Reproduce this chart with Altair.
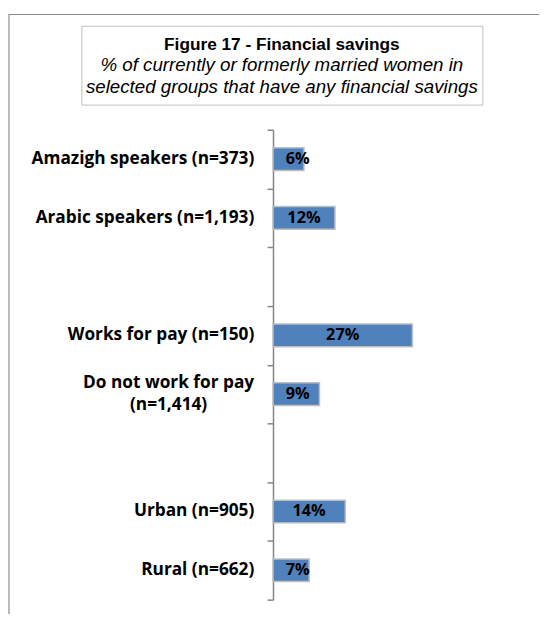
import altair as alt
import pandas as pd

categories = [
    "Amazigh speakers (n=373)",
    "Arabic speakers (n=1,193)",
    "Works for pay (n=150)",
    "Do not work for pay\n(n=1,414)",
    "Urban (n=905)",
    "Rural (n=662)",
]
values = [6, 12, 27, 9, 14, 7]
domain_order = [
    "Amazigh speakers (n=373)",
    "Arabic speakers (n=1,193)",
    " ",
    "Works for pay (n=150)",
    "Do not work for pay\n(n=1,414)",
    "  ",
    "Urban (n=905)",
    "Rural (n=662)",
]
title_text = "Figure 17 - Financial savings"
subtitle_lines = [
    "% of currently or formerly married women in",
    "selected groups that have any financial savings",
]

df = pd.DataFrame({"group": categories, "pct": values})

FONT = "Open Sans"
TFONT = "Liberation Sans"
W, H = 262, 477
y_scale = alt.Scale(domain=domain_order, paddingInner=0, paddingOuter=0)
x_scale = alt.Scale(domain=[0, 50], nice=False, zero=True)

y_axis = alt.Axis(
    title=None,
    tickBand="extent",
    labels=False,
    tickSize=6,
    tickColor="#868686",
    tickWidth=1.5,
    domainColor="#868686",
    domainWidth=1.5,
)

bars = alt.Chart(df).mark_bar(
    size=23, color="#4F81BD", stroke="#BFBFBF", strokeWidth=1.5
).encode(
    x=alt.X("pct:Q", scale=x_scale, axis=None),
    y=alt.Y("group:N", scale=y_scale, axis=y_axis),
)

label_style = dict(
    font=FONT, fontWeight="bold", fontSize=17.5, color="#000000",
    baseline="middle", lineBreak="\n", lineHeight=23,
)

cat_single = alt.Chart(df).transform_filter(
    "indexof(datum.group, '\\n') < 0"
).mark_text(align="right", **label_style).encode(
    x=alt.value(-19),
    y=alt.Y("group:N", scale=y_scale),
    text="group:N",
)

cat_multi = alt.Chart(df).transform_filter(
    "indexof(datum.group, '\\n') >= 0"
).mark_text(align="center", dy=-11.5, **label_style).encode(
    x=alt.value(-106),
    y=alt.Y("group:N", scale=y_scale),
    text="group:N",
)

labels = alt.Chart(df).transform_calculate(
    pos="max(datum.pct / 2, 4.8)",
    lab="datum.pct + '%'",
).mark_text(
    font=FONT, fontWeight="bold", fontSize=16.5, color="#000000",
    align="center", baseline="middle",
).encode(
    x=alt.X("pos:Q", scale=x_scale, axis=None),
    y=alt.Y("group:N", scale=y_scale),
    text="lab:N",
)

one = alt.Data(values=[{}])

outer_frame = alt.Chart(one).mark_rect(
    fillOpacity=0, stroke="#8C8C8C", strokeWidth=1.2
).encode(
    x=alt.value(-268), x2=alt.value(400), y=alt.value(-117), y2=alt.value(600)
)

title_box = alt.Chart(one).mark_rect(
    fillOpacity=0, stroke="#BFBFBF", strokeWidth=1
).encode(
    x=alt.value(-194), x2=alt.value(213), y=alt.value(-105), y2=alt.value(-25)
)

t1 = alt.Chart(one).mark_text(
    font=TFONT, fontWeight="bold", fontSize=17.5, color="#000000",
    align="center", baseline="alphabetic",
).encode(x=alt.value(9), y=alt.value(-81), text=alt.value(title_text))

t2 = alt.Chart(one).mark_text(
    font=TFONT, fontStyle="italic", fontSize=19, color="#000000",
    align="center", baseline="alphabetic",
).encode(x=alt.value(9), y=alt.value(-59.5), text=alt.value(subtitle_lines[0]))

t3 = alt.Chart(one).mark_text(
    font=TFONT, fontStyle="italic", fontSize=19, color="#000000",
    align="center", baseline="alphabetic",
).encode(x=alt.value(9), y=alt.value(-37.5), text=alt.value(subtitle_lines[1]))

chart = alt.layer(
    outer_frame, title_box, t1, t2, t3, bars, labels, cat_single, cat_multi
).properties(
    width=W,
    height=H,
    autosize="none",
    background="#FFFFFF",
    padding={"left": 269, "top": 119, "right": 8, "bottom": 10},
).configure_view(stroke=None)

chart.save("out.html", embed_options={"renderer": "svg", "actions": False})
